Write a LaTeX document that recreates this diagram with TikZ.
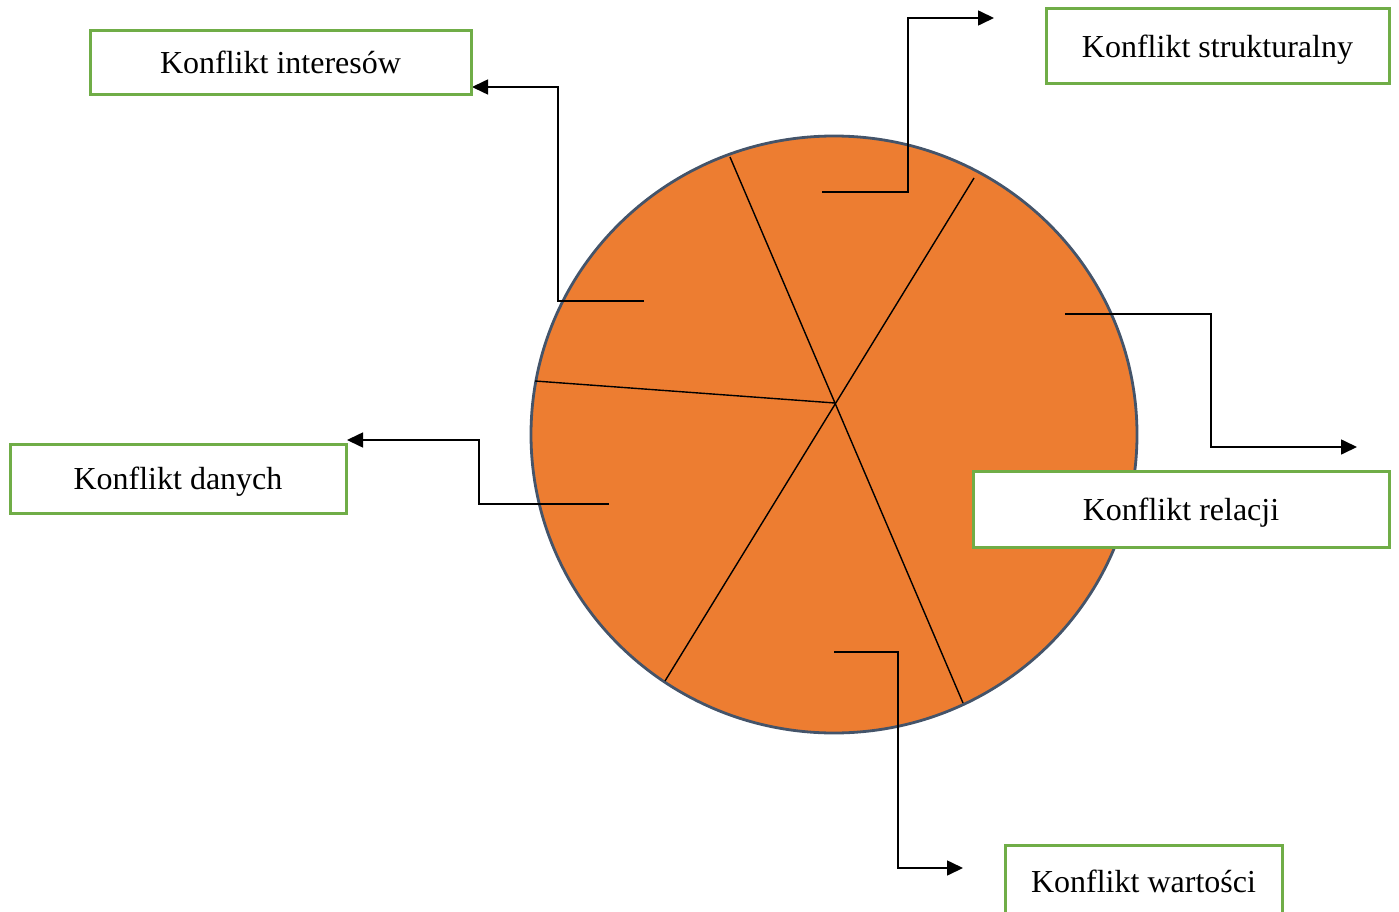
\documentclass[tikz,border=0pt]{standalone}
\usepackage{fontspec}
\setmainfont{Liberation Serif}
\usetikzlibrary{shapes.geometric,arrows.meta}
\definecolor{orng}{HTML}{ED7D31}
\definecolor{rim}{HTML}{44546A}
\definecolor{grn}{HTML}{70AD47}
\begin{document}
\begin{tikzpicture}[x=1pt,y=-1pt,
  box/.style={draw=grn, line width=3pt, fill=white, inner sep=0pt, text height=22pt, text depth=0pt, font=\fontsize{32}{38}\selectfont},
  spoke/.style={draw=black, line width=1.4pt},
  conn/.style={draw=black, line width=1.6pt, -{Triangle[length=16pt,width=15pt]}}]
\useasboundingbox (0,0) rectangle (1399,912);
% pie
\node[ellipse, draw=rim, fill=orng, line width=2.8pt, minimum width=606pt, minimum height=597pt, inner sep=0pt] (circ) at (834,434.5) {};
\coordinate (hub) at (835,403);
\coordinate (s1a) at (730,157);
\coordinate (s1b) at (963,703);
\coordinate (s2a) at (974,178);
\coordinate (s2b) at (665,681);
\coordinate (s3a) at (535,381);
\draw[spoke] (s1a) -- (s1b);
\draw[spoke] (s2a) -- (s2b);
\draw[spoke] (s3a) -- (hub);
% connector ends
\coordinate (pInt) at (644,301);
\coordinate (eInt) at (472,87);
\coordinate (pStr) at (822,192);
\coordinate (eStr) at (994,18);
\coordinate (pDan) at (609,504);
\coordinate (eDan) at (347,440);
\coordinate (pRel) at (1065,314);
\coordinate (eRel) at (1357,447);
\coordinate (pWar) at (834,652);
\coordinate (eWar) at (963,868);
\draw[conn] (pInt) -- (558,301) -- (558,87) -- (eInt);
\draw[conn] (pStr) -- (908,192) -- (908,18) -- (eStr);
\draw[conn] (pDan) -- (479,504) -- (479,440) -- (eDan);
\draw[conn] (pRel) -- (1211,314) -- (1211,447) -- (eRel);
\draw[conn] (pWar) -- (898,652) -- (898,868) -- (eWar);
% boxes
\node[box, minimum width=381pt, minimum height=64pt] (bInt) at (280.5,63) {Konflikt interesów};
\node[box, minimum width=343pt, minimum height=75pt] (bStr) at (1217.5,46.5) {Konflikt strukturalny};
\node[box, minimum width=336pt, minimum height=69pt] (bDan) at (178,478.5) {Konflikt danych};
\node[box, minimum width=416pt, minimum height=76pt] (bRel) at (1181,509) {Konflikt relacji};
\node[box, minimum width=277pt, minimum height=72pt] (bWar) at (1143.5,881) {Konflikt wartości};
\end{tikzpicture}
\end{document}
